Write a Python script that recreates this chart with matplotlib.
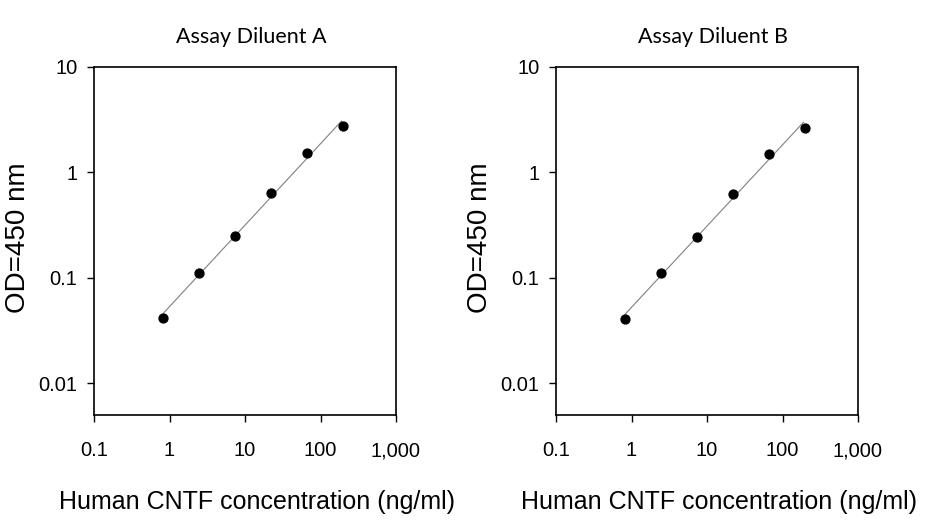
#!/usr/bin/env python3
import numpy as np
import matplotlib
matplotlib.use("Agg")
import matplotlib.pyplot as plt
from matplotlib.ticker import FixedLocator, NullLocator

# concentrations (ng/ml), 3-fold dilution series
conc = [0.82, 2.47, 7.4, 22.2, 66.7, 200.0]
od_a = [0.042, 0.111, 0.252, 0.636, 1.52, 2.77]
od_b = [0.041, 0.111, 0.243, 0.627, 1.51, 2.66]
titles = ["Assay Diluent A", "Assay Diluent B"]
xticks = [0.1, 1, 10, 100, 1000]
xticklabels = ["0.1", "1", "10", "100", "1,000"]
yticks = [0.01, 0.1, 1, 10]
yticklabels = ["0.01", "0.1", "1", "10"]

W, H = 926, 527
plt.rcParams['font.family'] = ['Liberation Sans', 'DejaVu Sans']
fig = plt.figure(figsize=(W / 100, H / 100), dpi=100)

lefts = [94, 556]
for left, title, od in zip(lefts, titles, [od_a, od_b]):
    ax = fig.add_axes([left / W, 1 - 415 / H, 302 / W, (415 - 67) / H])
    ax.set_xscale('log')
    ax.set_yscale('log')
    ax.set_xlim(0.1, 1000)
    ax.set_ylim(0.005, 10)

    # log-log linear fit
    lx, ly = np.log10(conc), np.log10(od)
    k, b = np.polyfit(lx, ly, 1)
    xf = np.array([conc[0], conc[-1] * 0.95])
    ax.plot(xf, 10 ** (k * np.log10(xf) + b), color='#808080', lw=0.8, zorder=2)
    ax.plot(conc, od, 'o', color='black', ms=6.4, zorder=3)

    ax.xaxis.set_major_locator(FixedLocator(xticks))
    ax.set_xticklabels(xticklabels, fontsize=14.5)
    ax.yaxis.set_major_locator(FixedLocator(yticks))
    ax.set_yticklabels(yticklabels, fontsize=14.5)
    ax.xaxis.set_minor_locator(NullLocator())
    ax.yaxis.set_minor_locator(NullLocator())
    ax.tick_params(axis='x', length=5, width=1, pad=14)
    ax.tick_params(axis='y', length=5, width=1, pad=7)
    for s in ax.spines.values():
        s.set_linewidth(1.2)

    ax.set_xlabel("Human CNTF concentration (ng/ml)", fontsize=18)
    ax.xaxis.set_label_coords(0.54, -0.215)
    ax.set_ylabel("OD=450 nm", fontsize=20)
    ax.yaxis.set_label_coords(-0.21, 0.51)
    ax.set_title(title, fontsize=15.5, family=['Lato', 'DejaVu Sans'], pad=17,
                 x=0.52)

fig.savefig("out.png", dpi=100)
